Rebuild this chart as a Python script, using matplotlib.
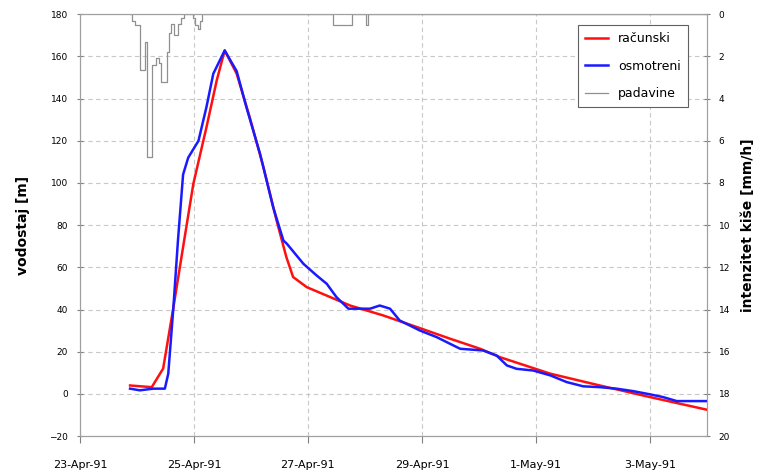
import matplotlib
matplotlib.use("Agg")
import matplotlib.pyplot as plt
import matplotlib.dates as mdates
import numpy as np
import pandas as pd

start = pd.Timestamp("1991-04-23")

# vrijeme u danima od 23-Apr-91 00:00
t_racunski = [0.88, 1.26, 1.46, 1.64, 1.81, 1.99, 2.22, 2.40, 2.54, 2.75, 2.98,
              3.22, 3.45, 3.62, 3.74, 3.98, 4.74, 5.32, 5.91, 6.49, 7.02, 7.37,
              8.25, 9.12, 10.0, 11.0]
h_racunski = [4.0, 3.2, 12.0, 41.0, 69.6, 99.6, 126.4, 148.6, 162.8, 151.8, 131.0,
              107.5, 82.2, 65.0, 55.4, 50.6, 41.9, 37.2, 31.7, 26.2, 21.4, 17.4,
              9.6, 4.0, -1.5, -7.5]

t_osmotreni = [0.88, 1.05, 1.29, 1.49, 1.55, 1.64, 1.72, 1.81, 1.90, 2.08, 2.22,
               2.34, 2.54, 2.75, 2.92, 3.16, 3.39, 3.57, 3.63, 3.92, 4.15, 4.33,
               4.50, 4.71, 5.09, 5.26, 5.44, 5.61, 5.96, 6.26, 6.49, 6.67, 7.07,
               7.31, 7.49, 7.66, 7.95, 8.25, 8.54, 8.83, 9.12, 9.41, 9.71, 10.0,
               10.23, 10.47, 11.0]
h_osmotreni = [2.5, 1.7, 2.5, 2.5, 9.6, 41.0, 72.7, 104.0, 112.0, 120.0, 136.0,
               151.8, 162.8, 153.0, 136.0, 113.8, 88.5, 72.7, 71.2, 61.7, 56.2, 52.2,
               45.9, 40.4, 40.4, 41.9, 40.4, 34.8, 30.1, 26.9, 23.8, 21.4, 20.6,
               18.2, 13.5, 11.9, 11.1, 8.8, 5.6, 3.6, 3.2, 2.5, 1.3, -0.2,
               -1.5, -3.4, -3.4]

t_padavine = [0.88, 0.92, 0.97, 1.05, 1.14, 1.18, 1.27, 1.33, 1.38, 1.43, 1.52,
              1.56, 1.60, 1.65, 1.72, 1.78, 1.82, 1.98, 2.02, 2.07, 2.11, 2.15,
              4.44, 4.77, 5.02, 5.06, 11.0]
i_padavine = [0.0, 0.3, 0.5, 2.65, 1.3, 6.76, 2.4, 2.1, 2.3, 3.2, 1.8,
              0.9, 0.45, 1.0, 0.45, 0.2, 0.0, 0.2, 0.5, 0.7, 0.3, 0.0,
              0.5, 0.0, 0.5, 0.0, 0.0]

x_tick_days = [0, 2, 4, 6, 8, 10]


def to_dates(days):
    return start + pd.to_timedelta(np.array(days, dtype=float), unit="D")


fig = plt.figure(figsize=(7.61, 4.73), dpi=100)
ax = fig.add_axes([0.105, 0.078, 0.824, 0.892])
ax2 = ax.twinx()

ax.plot(to_dates(t_racunski), h_racunski, color="#ff1010", lw=1.8, label="računski", zorder=3)
ax.plot(to_dates(t_osmotreni), h_osmotreni, color="#1a1aff", lw=1.8, label="osmotreni", zorder=4)
ax2.plot(to_dates(t_padavine), i_padavine, color="#909090", lw=0.9,
         drawstyle="steps-post", label="padavine")

ax.set_xlim(start, start + pd.Timedelta(days=11))
ax.set_ylim(-20, 180)
ax.set_yticks(np.arange(-20, 181, 20))
ax2.set_ylim(20, 0)
ax2.set_yticks(np.arange(0, 21, 2))

ax.set_xticks(to_dates(x_tick_days))
ax.xaxis.set_major_formatter(mdates.DateFormatter("%-d-%b-%y"))

ax.grid(True, color="#c8c8c8", ls=(0, (4, 3)), lw=0.8)
ax.set_axisbelow(True)

for a in (ax, ax2):
    for s in a.spines.values():
        s.set_color("#a0a0a0")
ax.tick_params(axis="y", labelsize=6.5, direction="inout", length=5, color="#808080", pad=6)
ax.tick_params(axis="x", labelsize=8, direction="out", length=5, color="#808080", pad=12)
ax2.tick_params(axis="y", labelsize=6.5, direction="inout", length=5, color="#808080", pad=6)

ax.set_ylabel("vodostaj [m]", fontsize=10, fontweight="bold", labelpad=14)
ax2.set_ylabel("intenzitet kiše [mm/h]", fontsize=10, fontweight="bold", labelpad=8)

h1, l1 = ax.get_legend_handles_labels()
h2, l2 = ax2.get_legend_handles_labels()
leg = ax.legend(h1 + h2, l1 + l2, loc="upper right", bbox_to_anchor=(0.98, 0.99),
                fontsize=9, fancybox=False, framealpha=1, edgecolor="#606060",
                handlelength=1.8, labelspacing=1.15, borderpad=0.6)
leg.get_frame().set_linewidth(0.8)
leg.set_zorder(10)

fig.savefig("out.png", dpi=100)
